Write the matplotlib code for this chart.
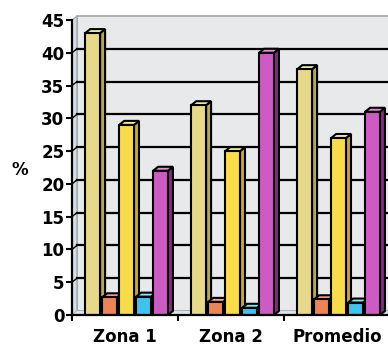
import matplotlib
matplotlib.use("Agg")
import matplotlib.pyplot as plt
from matplotlib.patches import Polygon, Rectangle

# Data
categories = ["Zona 1", "Zona 2", "Promedio"]
series_khaki = [43, 32, 37.5]
series_orange = [2.7, 2.0, 2.4]
series_yellow = [29, 25, 27]
series_cyan = [2.8, 1.1, 1.9]
series_magenta = [22, 40, 31]
y_ticks = [0, 5, 10, 15, 20, 25, 30, 35, 40, 45]

series = [series_khaki, series_orange, series_yellow, series_cyan, series_magenta]
# (front, side, top) colours per series
colors = [
    ("#e6d98a", "#b8a84c", "#eef0c0"),
    ("#ee8455", "#b85a30", "#f4a880"),
    ("#f9dc4a", "#c8aa28", "#fbeea0"),
    ("#3cc4f0", "#1a8ab0", "#90e0f8"),
    ("#cc5cc4", "#8a2a82", "#e090d8"),
]

W, H = 388, 347
fig = plt.figure(figsize=(W / 100, H / 100), dpi=100)
ax_left, ax_right, ax_bottom, ax_top = 72, 390, 315, 20
ax = fig.add_axes([ax_left / W, 1 - ax_bottom / H,
                   (ax_right - ax_left) / W, (ax_bottom - ax_top) / H])
n_groups = len(categories)
ymax = 45
ax.set_xlim(0, n_groups)
ax.set_ylim(0, ymax)

# depth offsets (converted from pixels to data units)
px_x = n_groups / (ax_right - ax_left)
px_y = ymax / (ax_bottom - ax_top)
ddx, ddy = 5 * px_x, 4 * px_y

# walls and floor
wall = Rectangle((ddx, ddy), n_groups, ymax, facecolor="#e7e9eb",
                 edgecolor="#a0a6aa", lw=1.2, clip_on=False, zorder=0)
ax.add_patch(wall)
left_wall = Polygon([(0, 0), (ddx, ddy), (ddx, ymax + ddy), (0, ymax)],
                    closed=True, facecolor="#d3dde7", edgecolor="#9aa0a4",
                    lw=0.8, clip_on=False, zorder=0.5)
ax.add_patch(left_wall)
floor = Polygon([(0, 0), (n_groups, 0), (n_groups + ddx, ddy), (ddx, ddy)],
                closed=True, facecolor="#dde2e6", edgecolor="none",
                clip_on=False, zorder=0.5)
ax.add_patch(floor)
for yv in y_ticks[1:-1]:
    ax.plot([ddx, n_groups + ddx], [yv + ddy, yv + ddy], color="black",
            lw=1.6, zorder=1, clip_on=False)
    ax.plot([0, ddx], [yv, yv + ddy], color="black", lw=1.0, zorder=1,
            clip_on=False)

# bars with front, side and top faces
bar_w = 0.14
step = 0.16
start = 0.125
lw_bar = 1.5
for g in range(n_groups):
    for i, s in enumerate(series):
        h = s[g]
        x0 = g + start + i * step
        x1 = x0 + bar_w
        front, side, top = colors[i]
        z = 2 + g * 10 + i
        ax.add_patch(Polygon([(x1, 0), (x1 + ddx, ddy), (x1 + ddx, h + ddy), (x1, h)],
                             closed=True, facecolor=side, edgecolor="black",
                             lw=lw_bar, zorder=z, clip_on=False))
        ax.add_patch(Polygon([(x0, h), (x0 + ddx, h + ddy), (x1 + ddx, h + ddy), (x1, h)],
                             closed=True, facecolor=top, edgecolor="black",
                             lw=lw_bar, zorder=z, clip_on=False))
        ax.bar(x0, h, width=bar_w, align="edge", color=front,
               edgecolor="black", lw=lw_bar, zorder=z + 0.5)

# axes styling
for sp in ("top", "right"):
    ax.spines[sp].set_visible(False)
for sp in ("left", "bottom"):
    ax.spines[sp].set_color("black")
    ax.spines[sp].set_linewidth(1.6)
    ax.spines[sp].set_zorder(50)

font = dict(family="DejaVu Sans", weight="bold", size=12)
ax.set_yticks(y_ticks)
ax.set_yticklabels([str(v) for v in y_ticks], **font)
ax.tick_params(axis="y", direction="out", length=4, width=1.5, pad=1.5)

ax.set_xticks(range(n_groups + 1))
ax.set_xticklabels([])
ax.tick_params(axis="x", which="major", direction="out", length=4, width=1.5)
ax.set_xticks([g + 0.5 for g in range(n_groups)], minor=True)
ax.set_xticklabels(categories, minor=True, **font)
ax.tick_params(axis="x", which="minor", length=0, pad=9)

fig.text(20 / W, 1 - 170 / H, "%", ha="center", va="center", **font)

fig.savefig("out.png", dpi=100)
